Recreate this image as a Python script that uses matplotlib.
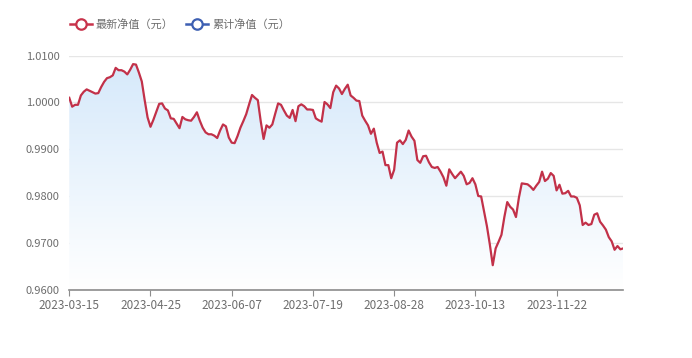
import matplotlib
matplotlib.use("Agg")
from matplotlib import pyplot as plt
from matplotlib.lines import Line2D
import numpy as np

plt.rcParams['font.family'] = ['Noto Sans CJK SC', 'DejaVu Sans']

# daily NAV, one value per trading day from 2023-03-15 to 2023-12-25
nav = [
    1.0010, 0.9991, 0.9995, 0.9995, 1.0015, 1.0023, 1.0028, 1.0025, 1.0022, 1.0019,
    1.0020, 1.0033, 1.0044, 1.0052, 1.0054, 1.0058, 1.0074, 1.0069, 1.0069, 1.0066,
    1.0060, 1.0070, 1.0082, 1.0081, 1.0064, 1.0045, 1.0005, 0.9968, 0.9948, 0.9963,
    0.9980, 0.9997, 0.9998, 0.9987, 0.9983, 0.9966, 0.9965, 0.9955, 0.9945, 0.9969,
    0.9964, 0.9962, 0.9961, 0.9969, 0.9979, 0.9961, 0.9946, 0.9936, 0.9932, 0.9932,
    0.9929, 0.9924, 0.9940, 0.9953, 0.9949, 0.9925, 0.9914, 0.9913, 0.9928, 0.9946,
    0.9960, 0.9975, 0.9996, 1.0016, 1.0010, 1.0005, 0.9960, 0.9922, 0.9951, 0.9946,
    0.9953, 0.9976, 0.9998, 0.9995, 0.9983, 0.9972, 0.9967, 0.9984, 0.9960, 0.9992,
    0.9996, 0.9992, 0.9985, 0.9985, 0.9984, 0.9966, 0.9962, 0.9959, 1.0001, 0.9996,
    0.9988, 1.0022, 1.0036, 1.0030, 1.0018, 1.0029, 1.0038, 1.0015, 1.0010, 1.0004,
    1.0003, 0.9972, 0.9961, 0.9951, 0.9933, 0.9944, 0.9914, 0.9892, 0.9895, 0.9866,
    0.9866, 0.9838, 0.9856, 0.9914, 0.9919, 0.9911, 0.9920, 0.9940, 0.9927, 0.9918,
    0.9877, 0.9871, 0.9885, 0.9886, 0.9872, 0.9862, 0.9860, 0.9862, 0.9852, 0.9840,
    0.9822, 0.9857, 0.9847, 0.9838, 0.9845, 0.9852, 0.9843, 0.9825, 0.9828, 0.9838,
    0.9825, 0.9800, 0.9799, 0.9767, 0.9735, 0.9696, 0.9652, 0.9688, 0.9702, 0.9717,
    0.9755, 0.9787, 0.9777, 0.9771, 0.9755, 0.9796, 0.9827, 0.9826, 0.9825, 0.9820,
    0.9813, 0.9822, 0.9830, 0.9852, 0.9832, 0.9837, 0.9849, 0.9843, 0.9812, 0.9824,
    0.9805, 0.9806, 0.9811, 0.9799, 0.9799, 0.9796, 0.9780, 0.9738, 0.9743, 0.9738,
    0.9740, 0.9760, 0.9763, 0.9745, 0.9737, 0.9728, 0.9712, 0.9703, 0.9685, 0.9693,
    0.9686, 0.9688,
]
tick_labels = ['2023-03-15', '2023-04-25', '2023-06-07', '2023-07-19',
               '2023-08-28', '2023-10-13', '2023-11-22']
tick_step = 28
y_ticks = [0.96, 0.97, 0.98, 0.99, 1.00, 1.01]
legend_names = ['最新净值（元）', '累计净值（元）']
legend_colors = ['#c8334b', '#3d5fb2']

line_color = '#c23149'
text_color = '#6e6e6e'

x = np.arange(len(nav))
y = np.array(nav)

fig = plt.figure(figsize=(6.92, 3.58), dpi=100)
ax = fig.add_axes([0.1001, 0.1913, 0.8006, 0.6531])
ymin, ymax = 0.96, 1.01
ax.set_xlim(0, len(nav) - 1)
ax.set_ylim(ymin, ymax)

# gradient area under the line
grad = np.linspace(0, 1, 256).reshape(-1, 1)
top = np.array([0.835, 0.912, 0.982])
bottom = np.array([1.0, 1.0, 1.0])
rgb = top + (bottom - top) * grad
img = np.dstack([rgb[:, 0:1], rgb[:, 1:2], rgb[:, 2:3]])
im = ax.imshow(img, extent=[0, len(nav) - 1, ymin, ymax], aspect='auto',
               origin='upper', zorder=1)
poly = ax.fill_between(x, y, ymin, color='none', lw=0)
clip = poly.get_paths()[0]
im.set_clip_path(clip, transform=ax.transData)

ax.plot(x, y, color=line_color, lw=1.6, zorder=3, solid_joinstyle='round')

ax.set_yticks(y_ticks)
ax.set_yticklabels([f'{v:.4f}' for v in y_ticks])
ax.set_xticks(np.arange(len(tick_labels)) * tick_step)
ax.set_xticklabels(tick_labels)
ax.grid(axis='y', color='#e6e6e6', lw=1)
ax.set_axisbelow(True)
for s in ['top', 'right', 'left']:
    ax.spines[s].set_visible(False)
ax.spines['bottom'].set_color('#8c8c8c')
ax.spines['bottom'].set_linewidth(1.2)
ax.spines['bottom'].set_zorder(4)
ax.tick_params(axis='y', length=0, pad=7, labelsize=8, labelcolor=text_color)
ax.tick_params(axis='x', length=4, color='#8c8c8c', pad=2.5, labelsize=8.5,
               labelcolor=text_color)

# legend drawn by hand at the top
lx = [70, 186]
for px, name, c in zip(lx, legend_names, legend_colors):
    fx0, fx1 = px / 692, (px + 22) / 692
    fy = 1 - 24 / 358
    fig.add_artist(Line2D([fx0, fx1], [fy, fy], color=c, lw=1.8,
                          transform=fig.transFigure))
    fig.add_artist(Line2D([(fx0 + fx1) / 2], [fy], color=c, marker='o',
                          markersize=7.5, markerfacecolor='white',
                          markeredgewidth=1.6, transform=fig.transFigure))
    fig.text((px + 26) / 692, fy, name, fontsize=8, color=text_color,
             va='center', ha='left')

fig.savefig('out.png', dpi=100)
